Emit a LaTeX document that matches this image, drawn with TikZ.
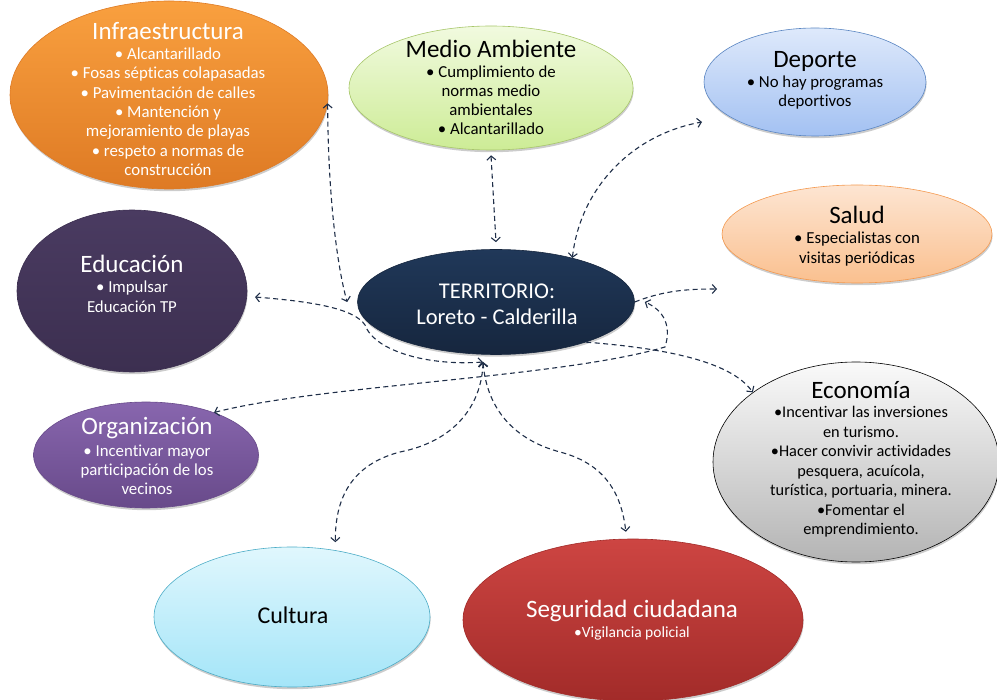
\documentclass[tikz,border=0pt]{standalone}
\usepackage{fontspec}
\setmainfont{Carlito}[Ligatures={NoCommon,NoContextual}]
\usepackage{tikz}
\usetikzlibrary{arrows.meta, positioning, shapes.geometric, shadows}
\definecolor{infratop}{HTML}{F9A03F}
\definecolor{infrabot}{HTML}{DE7A24}
\definecolor{medtop}{HTML}{F1FADF}
\definecolor{medbot}{HTML}{CDEC96}
\definecolor{medline}{HTML}{A7C66A}
\definecolor{deptop}{HTML}{DEE9FB}
\definecolor{depbot}{HTML}{A3C1F2}
\definecolor{depline}{HTML}{5B86C2}
\definecolor{saltop}{HTML}{FDE5D2}
\definecolor{salbot}{HTML}{FAC08F}
\definecolor{salline}{HTML}{F4994F}
\definecolor{edutop}{HTML}{4A3B61}
\definecolor{edubot}{HTML}{3C2F50}
\definecolor{terrtop}{HTML}{203859}
\definecolor{terrbot}{HTML}{16263E}
\definecolor{orgtop}{HTML}{8866AE}
\definecolor{orgbot}{HTML}{684A8A}
\definecolor{ecotop}{HTML}{FAFAFA}
\definecolor{ecobot}{HTML}{B4B4B4}
\definecolor{culttop}{HTML}{E0F7FD}
\definecolor{cultbot}{HTML}{A4E5F8}
\definecolor{cultline}{HTML}{4BACC6}
\definecolor{segtop}{HTML}{CD4542}
\definecolor{segbot}{HTML}{A22B29}
\definecolor{linkcol}{HTML}{1F2E48}
\newcommand{\bubhead}[1]{{\fontsize{25}{30}\selectfont #1}}
\tikzset{
  bubble/.style = {ellipse, inner sep=0pt, line width=0.6pt,
                   drop shadow={shadow xshift=0.6pt, shadow yshift=-2.2pt, opacity=0.4}},
  txt/.style    = {align=center, inner sep=0pt, anchor=north,
                   font=\fontsize{16.8}{19.3}\selectfont},
  link/.style   = {{Straight Barb[length=4pt, width=9pt]}-{Straight Barb[length=4pt, width=9pt]},
                   draw=linkcol, line width=1.1pt, dash pattern=on 5pt off 3.5pt},
  linkone/.style= {-{Straight Barb[length=4pt, width=9pt]},
                   draw=linkcol, line width=1.1pt, dash pattern=on 5pt off 3.5pt},
}

\begin{document}
\begin{tikzpicture}[x=1pt, y=-1pt]
\useasboundingbox (0,0) rectangle (997,700);
% bubbles
\node[bubble, minimum width=318pt, minimum height=188pt, top color=infratop, bottom color=infrabot, draw=infrabot] (infra) at (169,95) {};
\node[bubble, minimum width=284pt, minimum height=124pt, top color=medtop, bottom color=medbot, draw=medline] (medio) at (491,88) {};
\node[bubble, minimum width=222pt, minimum height=108pt, top color=deptop, bottom color=depbot, draw=depline] (dep) at (815,82) {};
\node[bubble, minimum width=270pt, minimum height=98pt, top color=saltop, bottom color=salbot, draw=salline] (sal) at (857,234) {};
\node[bubble, minimum width=230pt, minimum height=162pt, top color=edutop, bottom color=edubot, draw=edubot] (edu) at (132,291) {};
\node[bubble, minimum width=277pt, minimum height=105pt, top color=terrtop, bottom color=terrbot, draw=terrbot] (terr) at (496,302) {};
\node[bubble, minimum width=225pt, minimum height=106pt, top color=orgtop, bottom color=orgbot, draw=orgbot] (org) at (146,455) {};
\node[bubble, minimum width=286pt, minimum height=200pt, top color=ecotop, bottom color=ecobot, draw=black] (eco) at (856,462) {};
\node[bubble, minimum width=276pt, minimum height=140pt, top color=culttop, bottom color=cultbot, draw=cultline] (cult) at (292,617) {};
\node[bubble, minimum width=340pt, minimum height=162pt, top color=segtop, bottom color=segbot, draw=segbot] (seg) at (633,620) {};

% texts
\node[txt, text=white] (infra-t) at (168,22) {\bubhead{Infraestructura}\\[1pt]
  • Alcantarillado\\ • Fosas sépticas colapasadas\\ • Pavimentación de calles\\
  • Mantención y\\ mejoramiento de playas\\ • respeto a normas de\\ construcción};
\node[txt, font=\fontsize{16.8}{19}\selectfont] (medio-t) at (491,40) {\bubhead{Medio Ambiente}\\[1pt]
  • Cumplimiento de\\ normas medio\\ ambientales\\ • Alcantarillado};
\node[txt] (dep-t) at (815,51) {\bubhead{Deporte}\\[1pt] • No hay programas\\ deportivos};
\node[txt] (sal-t) at (857,206) {\bubhead{Salud}\\[1pt] • Especialistas con\\ visitas periódicas};
\node[txt, text=white] (edu-t) at (132,255) {\bubhead{Educación}\\[1pt] • Impulsar\\ Educación TP};
\node[txt, text=white, font=\fontsize{22.5}{26}\selectfont] (terr-t) at (497,284) {TERRITORIO:\\ Loreto - Calderilla};
\node[txt, text=white, font=\fontsize{16.8}{19}\selectfont] (org-t) at (147,417) {\bubhead{Organización}\\[3pt]
  • Incentivar mayor\\ participación de los\\ vecinos};
\node[txt, font=\fontsize{16.3}{19.5}\selectfont] (eco-t) at (861,381) {\bubhead{Economía}\\[0pt]
  •Incentivar las inversiones\\ en turismo.\\ •Hacer convivir actividades\\ pesquera, acuícola,\\
  turística, portuaria, minera.\\ •Fomentar el\\ emprendimiento.};
\node[txt, anchor=center, font=\fontsize{24}{28}\selectfont] (cult-t) at (293,615) {Cultura};
\node[txt, text=white] (seg-t) at (632,600) {\bubhead{Seguridad ciudadana}\\[1pt]
  {\fontsize{15.5}{18}\selectfont •Vigilancia policial}};

% links
\coordinate (hub) at (483,362);
\coordinate (depin) at (702,122);
\coordinate (salin) at (717,289);
\coordinate (orgturn) at (665,347);
\draw[link] (infra.-3) .. controls (328,200) and (338,270) .. ([xshift=-10pt]terr.west);
\draw[link] ([yshift=-5pt]medio.south) -- ([yshift=7pt]terr.north);
\draw[link] (terr.30) .. controls (580,190) and (630,135) .. (depin);
\draw[linkone] (terr.east) .. controls (665,290) and (690,289) .. (salin);
\draw[linkone] (terr.-24) .. controls (660,348) and (730,360) .. (eco.146);
\draw[link] (org.32) .. controls (320,385) and (560,378) .. (orgturn)
  .. controls (672,325) and (663,310) .. ([xshift=10pt]terr.east);
\draw[link] ([xshift=8pt]edu.-3) .. controls (320,302) and (355,310) .. (365,325)
  .. controls (375,352) and (430,366) .. (hub);
\draw[link] (hub) .. controls (482,400) and (460,440) .. (400,452)
  .. controls (350,465) and (335,500) .. ([yshift=8pt]cult.57);
\draw[link] (hub) .. controls (487,410) and (515,440) .. (560,452)
  .. controls (610,465) and (622,500) .. ([yshift=7pt]seg.95);
\end{tikzpicture}
\end{document}
